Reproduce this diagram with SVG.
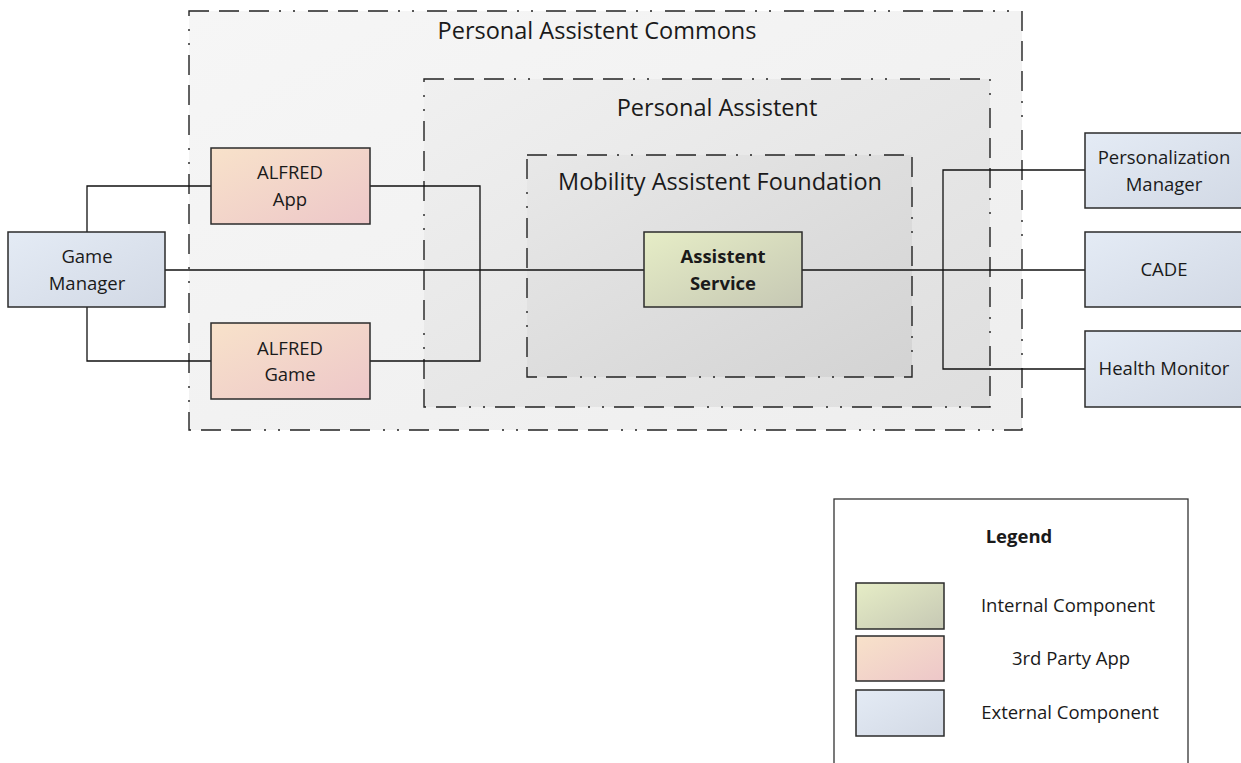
<svg xmlns="http://www.w3.org/2000/svg" width="1241" height="763" viewBox="0 0 1241 763">
<style>
.t{font-family:"Open Sans","Liberation Sans",sans-serif;fill:#1a1a1a;text-anchor:middle}
.ct{font-size:23.5px}
.nt{font-size:18.5px}
.b{font-weight:bold}
.box{stroke:#2b2b2b;stroke-width:1.5}
.grp{stroke:#222;stroke-width:1.4;stroke-dasharray:20 10 20 10 20 10 2 12 2 13}
.ln{fill:none;stroke:#111;stroke-width:1.3}
</style>
<defs>
<linearGradient id="gOuter" x1="0" y1="0" x2="1" y2="1"><stop offset="0" stop-color="#f6f6f6"/><stop offset="1" stop-color="#eeeeee"/></linearGradient>
<linearGradient id="gPA" x1="0" y1="0" x2="1" y2="1"><stop offset="0" stop-color="#f0f0f0"/><stop offset="1" stop-color="#dedede"/></linearGradient>
<linearGradient id="gMAF" x1="0" y1="0" x2="1" y2="1"><stop offset="0" stop-color="#e8e8e8"/><stop offset="1" stop-color="#d3d3d3"/></linearGradient>
<linearGradient id="gInt" x1="0" y1="0" x2="1" y2="1"><stop offset="0" stop-color="#e6edc6"/><stop offset="1" stop-color="#c6c8b4"/></linearGradient>
<linearGradient id="g3rd" x1="0" y1="0" x2="1" y2="1"><stop offset="0" stop-color="#f8e2ca"/><stop offset="1" stop-color="#edc7c9"/></linearGradient>
<linearGradient id="gExt" x1="0" y1="0" x2="1" y2="1"><stop offset="0" stop-color="#e4ebf5"/><stop offset="1" stop-color="#d2d9e5"/></linearGradient>
</defs>
<rect width="1241" height="763" fill="#ffffff"/>

<g id="personal-assistent-commons">
<rect class="grp" x="189" y="11" width="833" height="419" fill="url(#gOuter)"/>
<text class="t ct" x="597" y="39">Personal Assistent Commons</text>
</g>
<g id="personal-assistent">
<rect class="grp" x="424" y="79" width="566" height="328" fill="url(#gPA)"/>
<text class="t ct" x="717" y="116">Personal Assistent</text>
</g>
<g id="mobility-assistent-foundation">
<rect class="grp" x="527" y="155" width="385" height="222" fill="url(#gMAF)"/>
<text class="t ct" x="720" y="190">Mobility Assistent Foundation</text>
</g>

<g id="connectors">
<polyline class="ln" points="87,232 87,186 211,186"/>
<polyline class="ln" points="87,307 87,361 211,361"/>
<polyline class="ln" points="370,186 480,186 480,361 370,361"/>
<line class="ln" x1="165" y1="270" x2="644" y2="270"/>
<line class="ln" x1="802" y1="270" x2="1085" y2="270"/>
<polyline class="ln" points="1085,170 943,170 943,369 1085,369"/>
</g>

<g id="alfred-app">
<rect class="box" x="211" y="148" width="159" height="76" fill="url(#g3rd)"/>
<text class="t nt" x="290" y="179">ALFRED</text>
<text class="t nt" x="290" y="206">App</text>
</g>
<g id="alfred-game">
<rect class="box" x="211" y="323" width="159" height="76" fill="url(#g3rd)"/>
<text class="t nt" x="290" y="355">ALFRED</text>
<text class="t nt" x="290" y="381">Game</text>
</g>
<g id="game-manager">
<rect class="box" x="8" y="232" width="157" height="75" fill="url(#gExt)"/>
<text class="t nt" x="87" y="263">Game</text>
<text class="t nt" x="87" y="290">Manager</text>
</g>
<g id="assistent-service">
<rect class="box" x="644" y="232" width="158" height="75" fill="url(#gInt)"/>
<text class="t nt b" x="723" y="263">Assistent</text>
<text class="t nt b" x="723" y="290">Service</text>
</g>
<g id="personalization-manager">
<rect class="box" x="1085" y="133" width="160" height="75" fill="url(#gExt)"/>
<text class="t nt" x="1164" y="164">Personalization</text>
<text class="t nt" x="1164" y="191">Manager</text>
</g>
<g id="cade">
<rect class="box" x="1085" y="232" width="160" height="75" fill="url(#gExt)"/>
<text class="t nt" x="1164" y="276">CADE</text>
</g>
<g id="health-monitor">
<rect class="box" x="1085" y="331" width="160" height="76" fill="url(#gExt)"/>
<text class="t nt" x="1164" y="375">Health Monitor</text>
</g>

<g id="legend">
<rect x="834" y="499" width="354" height="270" fill="#ffffff" stroke="#333" stroke-width="1.3"/>
<text class="t b" style="font-size:18.5px" x="1019" y="543">Legend</text>
<rect class="box" x="856" y="583" width="88" height="46" fill="url(#gInt)"/>
<rect class="box" x="856" y="636" width="88" height="45" fill="url(#g3rd)"/>
<rect class="box" x="856" y="690" width="88" height="46" fill="url(#gExt)"/>
<text class="t nt" x="1068" y="612">Internal Component</text>
<text class="t nt" x="1071" y="665">3rd Party App</text>
<text class="t nt" x="1070" y="719">External Component</text>
</g>
</svg>
